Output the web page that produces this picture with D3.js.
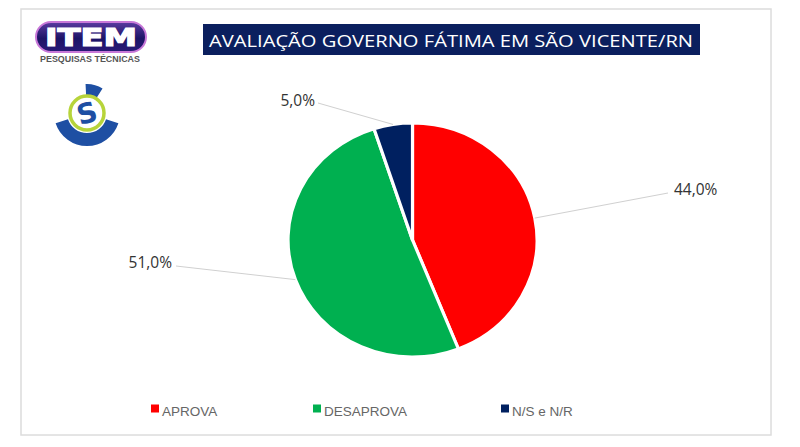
<!DOCTYPE html>
<html><head><meta charset="utf-8">
<script src="https://cdn.jsdelivr.net/npm/d3@7/dist/d3.min.js"></script>
<style>body{margin:0;background:#fff}svg{display:block}</style>
</head><body>
<script>
const title = "AVALIAÇÃO GOVERNO FÁTIMA EM SÃO VICENTE/RN";
const categories = ["APROVA", "DESAPROVA", "N/S e N/R"];
const values = [44.0, 51.0, 5.0];
const colors = ["#ff0000", "#00b050", "#002060"];

// layout (not data)
const W = 800, H = 447;
const cx = 412.5, cy = 240, r = 117, sx = 1.064;
const labelLayout = [
  {lx: 668, ly: 193, tx: 674, ty: 195, anchor: "start"},
  {lx: 176, ly: 266, tx: 172, ty: 268, anchor: "end"},
  {lx: 318, ly: 103, tx: 315, ty: 106, anchor: "end"}
];
const legendX = [151, 313, 501];

const svg = d3.select("body").append("svg").attr("width", W).attr("height", H);
svg.append("rect").attr("width", W).attr("height", H).attr("fill", "#fff");

// frame
svg.append("rect").attr("x", 21).attr("y", 9).attr("width", 750).attr("height", 426)
  .attr("fill", "#fff").attr("stroke", "#dcdcdc").attr("stroke-width", 1.5);

// title box
svg.append("rect").attr("x", 203).attr("y", 24).attr("width", 497).attr("height", 31).attr("fill", "#0b1f5e");
svg.append("text").attr("x", 209).attr("y", 46.5).attr("fill", "#fff")
  .attr("font-family", "'Open Sans', 'Liberation Sans', sans-serif").attr("font-size", 17)
  .attr("textLength", 484).attr("lengthAdjust", "spacingAndGlyphs").text(title);

// ITEM logo
const defs = svg.append("defs");
const g1 = defs.append("linearGradient").attr("id", "itemg").attr("x1", 0).attr("y1", 0).attr("x2", 0).attr("y2", 1);
g1.append("stop").attr("offset", "0%").attr("stop-color", "#5a3aa0");
g1.append("stop").attr("offset", "55%").attr("stop-color", "#1d1466");
g1.append("stop").attr("offset", "100%").attr("stop-color", "#2a1a78");
svg.append("rect").attr("x", 36).attr("y", 22).attr("width", 110).attr("height", 30).attr("rx", 15)
  .attr("fill", "url(#itemg)").attr("stroke", "#c878d8").attr("stroke-width", 2);
svg.append("text").attr("x", 45).attr("y", 46).attr("fill", "#fff")
  .attr("font-family", "'DejaVu Sans', sans-serif").attr("font-weight", "bold").attr("font-size", 25)
  .attr("textLength", 92).attr("lengthAdjust", "spacingAndGlyphs")
  .attr("stroke", "#fff").attr("stroke-width", 1.2).text("ITEM");
svg.append("text").attr("x", 40).attr("y", 61.5).attr("fill", "#555")
  .attr("font-family", "'Liberation Sans Narrow', 'Liberation Sans', sans-serif").attr("font-weight", "bold").attr("font-size", 9)
  .attr("textLength", 100).attr("lengthAdjust", "spacingAndGlyphs").text("PESQUISAS TÉCNICAS");

// S logo
const lg = svg.append("g").attr("transform", "translate(87,113)");
const blueArc = d3.arc().innerRadius(20).outerRadius(33);
lg.append("path").attr("d", blueArc({startAngle: Math.PI * 0.6, endAngle: Math.PI * 1.4})).attr("fill", "#1e4fa3");
lg.append("path").attr("d", d3.arc().innerRadius(18).outerRadius(29)({startAngle: -0.05, endAngle: Math.PI * 0.18})).attr("fill", "#1e4fa3");
lg.append("circle").attr("r", 17).attr("fill", "#fff").attr("stroke", "#b7d43a").attr("stroke-width", 3.5);
lg.append("text").attr("x", 0).attr("y", 10).attr("text-anchor", "middle")
  .attr("transform", "rotate(-15)")
  .attr("font-family", "'DejaVu Sans', sans-serif").attr("font-weight", "bold").attr("font-size", 28)
  .attr("fill", "#1e4fa3").text("S");

// pie
const pie = d3.pie().sort(null).value(d => d)(values);
const arc = d3.arc().innerRadius(0).outerRadius(r);
const pg = svg.append("g").attr("transform", `translate(${cx},${cy}) scale(${sx},1)`);
pg.selectAll("path").data(pie).join("path")
  .attr("d", arc).attr("fill", (d, i) => colors[i])
  .attr("stroke", "#fff").attr("stroke-width", 3).attr("stroke-linejoin", "round");

// labels
const fmt = v => d3.format(".1f")(v).replace(".", ",") + "%";
pie.forEach((d, i) => {
  const a = (d.startAngle + d.endAngle) / 2;
  const ex = cx + sx * r * Math.sin(a), ey = cy - r * Math.cos(a);
  const L = labelLayout[i];
  svg.append("line").attr("x1", ex).attr("y1", ey).attr("x2", L.lx).attr("y2", L.ly)
    .attr("stroke", "#d0d0d0").attr("stroke-width", 1);
  svg.append("text").attr("x", L.tx).attr("y", L.ty).attr("text-anchor", L.anchor)
    .attr("font-family", "'Open Sans', 'Liberation Sans', sans-serif").attr("font-size", 15.5)
    .attr("fill", "#333").text(fmt(values[i]));
});

// legend
categories.forEach((c, i) => {
  svg.append("rect").attr("x", legendX[i]).attr("y", 404.5).attr("width", 8).attr("height", 8).attr("fill", colors[i]);
  svg.append("text").attr("x", legendX[i] + 11).attr("y", 416)
    .attr("font-family", "'Liberation Sans', sans-serif").attr("font-size", 13.5)
    .attr("fill", "#666").text(c);
});
</script>
</body></html>
